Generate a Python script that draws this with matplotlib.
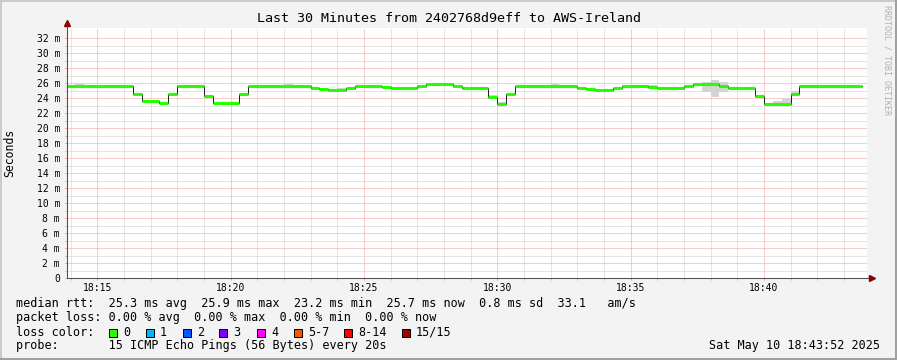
import matplotlib
matplotlib.use('Agg')
import matplotlib.pyplot as plt
from matplotlib.patches import Rectangle
from matplotlib.lines import Line2D

plt.rcParams['font.family'] = ['DejaVu Sans Mono']

W, H = 897, 360

# time in seconds after 18:00, median rtt in ms
edges = [832, 980, 1000, 1040, 1060, 1080, 1140, 1160, 1220, 1240, 1380, 1400, 1420,
         1460, 1480, 1540, 1560, 1620, 1640, 1700, 1720, 1780, 1800, 1820, 1840, 1980,
         2000, 2020, 2060, 2080, 2140, 2160, 2220, 2240, 2300, 2320, 2380, 2400, 2460,
         2480, 2620]
median = [25.65, 24.5, 23.6, 23.4, 24.6, 25.65, 24.3, 23.3, 24.6, 25.65, 25.4, 25.25,
          25.1, 25.4, 25.65, 25.47, 25.4, 25.65, 25.82, 25.65, 25.4, 24.13, 23.15, 24.5,
          25.65, 25.4, 25.2, 25.1, 25.4, 25.65, 25.5, 25.4, 25.65, 25.87, 25.6, 25.4,
          24.27, 23.25, 24.6, 25.65]

# smoke (spread of the pings)
smoke_t0 = [2260, 2280, 2420, 2440, 2460, 1780, 1800, 1320, 1920, 2140, 1440, 850]
smoke_t1 = [2320, 2300, 2440, 2460, 2480, 1800, 1820, 1340, 1940, 2160, 1460, 870]
smoke_lo = [24.85, 24.2, 23.25, 23.25, 24.6, 24.13, 23.15, 25.65, 25.65, 25.5, 25.1, 25.65]
smoke_hi = [26.1, 26.4, 23.6, 23.96, 24.9, 24.45, 23.5, 25.85, 25.85, 25.7, 25.3, 25.85]

xticks = [900, 1200, 1500, 1800, 2100, 2400]
xlabels = ['18:15', '18:20', '18:25', '18:30', '18:35', '18:40']
yticks = list(range(0, 33, 2))
ylabels = ['0' if v == 0 else '%d m' % v for v in yticks]

loss_labels = ['0', '1', '2', '3', '4', '5-7', '8-14', '15/15']
loss_colors = ['#26ff00', '#00b8ff', '#0059ff', '#7e00ff', '#ff00ff', '#ff5500', '#ff0000', '#a10000']
loss_box_x = [109, 146, 183, 219, 257, 294, 344, 402]


def fx(x):
    return x / W


def fy(y):
    return 1 - y / H


fig = plt.figure(figsize=(W / 100, H / 100), dpi=100, facecolor='#f3f3f3')
ax = fig.add_axes([fx(67), fy(278), 800 / W, 250 / H])
ax.set_facecolor('white')
ax.set_xlim(832, 2632)
ax.set_ylim(0, 250 / 7.5)

# grid
ax.set_xticks(xticks)
ax.set_xticklabels(xlabels)
ax.set_xticks(range(840, 2632, 60), minor=True)
ax.set_yticks(yticks)
ax.set_yticklabels(ylabels)
ax.set_yticks(range(1, 33, 2), minor=True)
ax.set_axisbelow(True)
ax.grid(which='minor', color='#cccccc', linestyle=(0, (1, 1)), linewidth=0.72)
ax.grid(which='major', color='#f09a9a', linestyle=(0, (1, 1)), linewidth=0.72)
ax.tick_params(which='both', direction='out', length=1.5, width=0.72, labelsize=7)
ax.tick_params(which='major', color='#f09a9a')
ax.tick_params(which='minor', color='#bbbbbb')
ax.tick_params(axis='x', pad=2)
ax.tick_params(axis='y', pad=3.5)

for s in ['top', 'right']:
    ax.spines[s].set_visible(False)
for s in ['left', 'bottom']:
    ax.spines[s].set_color('#505050')
    ax.spines[s].set_linewidth(0.75)

# axis extensions + arrows
ax.plot([0, 0], [1.0, 1.016], transform=ax.transAxes, color='#505050', lw=0.75, clip_on=False)
ax.plot([1.0, 1.005], [0, 0], transform=ax.transAxes, color='#505050', lw=0.75, clip_on=False)
ax.plot(0, 1.02, marker='^', ms=4, color='#8b0000', transform=ax.transAxes, clip_on=False)
ax.plot(1.006, 0, marker='>', ms=4, color='#8b0000', transform=ax.transAxes, clip_on=False)

# smoke
for t0, t1, lo, hi in zip(smoke_t0, smoke_t1, smoke_lo, smoke_hi):
    ax.bar(t0, hi - lo, bottom=lo, width=t1 - t0, align='edge', color='#d4d4d4', linewidth=0)

# median
ax.step(edges, median + [median[-1]], where='post', color='#222222', lw=0.72)
ax.hlines(median, edges[:-1], edges[1:], colors='#26ff00', lw=2.2)

# texts
fig.text(fx(448.5), fy(19), 'Last 30 Minutes from 2402768d9eff to AWS-Ireland',
         ha='center', va='center', fontsize=9.6)
fig.text(fx(10), fy(153), 'Seconds', rotation=90, ha='center', va='center', fontsize=8.3)
fig.text(fx(887), fy(5), 'RRDTOOL / TOBI OETIKER', rotation=270, ha='center', va='top',
         fontsize=6, color='#b0b0b0')

fs = 8.5
fig.text(fx(16), fy(304), 'median rtt:  25.3 ms avg  25.9 ms max  23.2 ms min  25.7 ms now  '
         '0.8 ms sd  33.1   am/s', ha='left', va='center', fontsize=fs)
fig.text(fx(16), fy(318), 'packet loss: 0.00 % avg  0.00 % max  0.00 % min  0.00 % now',
         ha='left', va='center', fontsize=fs)
fig.text(fx(16), fy(332), 'loss color:', ha='left', va='center', fontsize=fs)
for bx, lab, col in zip(loss_box_x, loss_labels, loss_colors):
    fig.add_artist(Rectangle((fx(bx), fy(337)), 8 / W, 8 / H, transform=fig.transFigure,
                             facecolor=col, edgecolor='black', linewidth=0.72))
    fig.text(fx(bx + 14), fy(332), lab, ha='left', va='center', fontsize=fs)
fig.text(fx(16), fy(346), 'probe:       15 ICMP Echo Pings (56 Bytes) every 20s',
         ha='left', va='center', fontsize=fs)
fig.text(fx(880), fy(346), 'Sat May 10 18:43:52 2025', ha='right', va='center', fontsize=fs)

# 3D frame
fig.add_artist(Line2D([0, 1], [fy(1), fy(1)], transform=fig.transFigure, color='#cbcbcb', lw=1.44))
fig.add_artist(Line2D([fx(1), fx(1)], [0, 1], transform=fig.transFigure, color='#cbcbcb', lw=1.44))
fig.add_artist(Line2D([0, 1], [fy(359), fy(359)], transform=fig.transFigure, color='#a0a0a0', lw=1.44))
fig.add_artist(Line2D([fx(896), fx(896)], [0, 1], transform=fig.transFigure, color='#a0a0a0', lw=1.44))

fig.savefig('out.png', dpi=100, facecolor=fig.get_facecolor())
